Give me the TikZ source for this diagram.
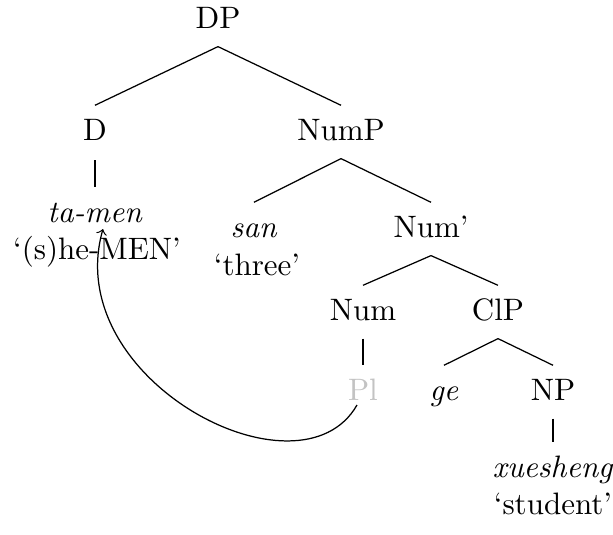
\documentclass[tikz,border=0pt]{standalone}
\definecolor{plgray}{RGB}{195,195,195}
\begin{document}
\begin{tikzpicture}[x=0.3226pt, y=-0.3226pt,
  lbl/.style={anchor=base, inner sep=3pt, text height=8pt, text depth=2.8pt},
  gl/.style={anchor=base, inner sep=0pt},
  branch/.style={line width=0.4pt},
  mv/.style={->, line width=0.4pt}]
\useasboundingbox (0,0) rectangle (613,535);
% nodes
\node[lbl] (dp) at (218,28) {DP};
\node[lbl] (d) at (95,140) {D};
\node[lbl] (nump) at (341,140) {NumP};
\node[lbl] (tamen) at (95,222) {\textit{ta-men}};
\node[gl] (tamengl) at (97,259) {‘(s)he-MEN’};
\node[lbl] (san) at (254,237) {\textit{san}};
\node[gl] (sangl) at (257,275) {‘three’};
\node[lbl] (numbar) at (431,237) {Num’};
\node[lbl] (num) at (363,320) {Num};
\node[lbl] (clp) at (498,320) {ClP};
\node[lbl, text=plgray] (pl) at (363,400) {Pl};
\node[lbl] (ge) at (444,400) {\textit{ge}};
\node[lbl] (np) at (553,400) {NP};
\node[lbl] (xs) at (553,477) {\textit{xuesheng}};
\node[gl] (xsgl) at (553,514) {‘student’};
% edges
\draw[branch] (dp.south) -- (d.north);
\draw[branch] (dp.south) -- (nump.north);
\draw[branch, shorten <=0.5pt] (d.south) -- (tamen.north);
\draw[branch] (nump.south) -- (san.north);
\draw[branch] (nump.south) -- (numbar.north);
\draw[branch] (numbar.south) -- (num.north);
\draw[branch] (numbar.south) -- (clp.north);
\draw[branch] (num.south) -- (pl.north);
\draw[branch] (clp.south) -- (ge.north);
\draw[branch] (clp.south) -- (np.north);
\draw[branch] (np.south) -- (xs.north);
% movement arrow
\draw[mv] ([shift={(-6,5)}]pl.base) .. controls (300,505) and (60,380) .. ([shift={(8,7)}]tamen.base);
\end{tikzpicture}
\end{document}
